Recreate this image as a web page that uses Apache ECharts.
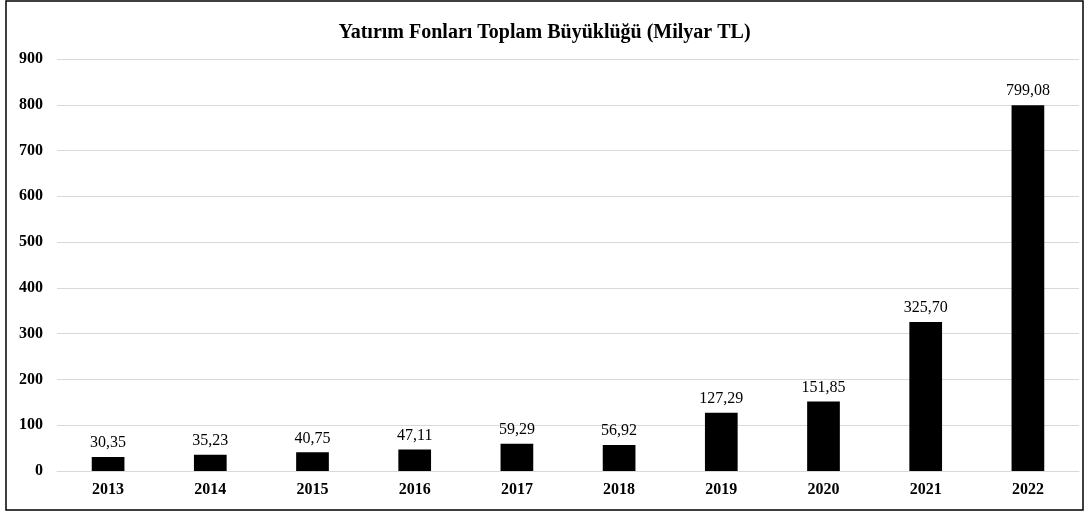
<!DOCTYPE html>
<html>
<head>
<meta charset="utf-8">
<script src="https://cdn.jsdelivr.net/npm/echarts@6/dist/echarts.min.js"></script>
<style>
  body { margin: 0; background: #fff; }
  #chart { width: 1089px; height: 513px; }
</style>
</head>
<body>
<div id="chart"></div>
<script>
const years = ['2013', '2014', '2015', '2016', '2017', '2018', '2019', '2020', '2021', '2022']
const fundSize = [30.35, 35.23, 40.75, 47.11, 59.29, 56.92, 127.29, 151.85, 325.70, 799.08]

const serif = '"Liberation Serif", "DejaVu Serif", serif'

const chart = echarts.init(document.getElementById('chart'))

chart.setOption({
    animation: false,
    title: {
        text: 'Yatırım Fonları Toplam Büyüklüğü (Milyar TL)',
        left: 'center',
        top: 18,
        textStyle: { fontFamily: serif, fontSize: 20, fontWeight: 'bold', color: '#000' }
    },
    graphic: [{
        type: 'rect',
        shape: { x: 6, y: 1, width: 1077, height: 509 },
        style: { fill: 'none', stroke: '#000', lineWidth: 1.5 },
        silent: true
    }],
    grid: { left: 57, right: 10, top: 59, bottom: 42, containLabel: false },
    xAxis: {
        type: 'category',
        data: years,
        axisTick: { show: false },
        axisLine: { lineStyle: { color: '#d9d9d9' } },
        axisLabel: { fontFamily: serif, fontSize: 16, fontWeight: 'bold', color: '#000', margin: 11 }
    },
    yAxis: {
        type: 'value',
        min: 0,
        max: 900,
        interval: 100,
        axisLine: { show: false },
        axisTick: { show: false },
        splitLine: { lineStyle: { color: '#d9d9d9', width: 1 } },
        axisLabel: { fontFamily: serif, fontSize: 16, fontWeight: 'bold', color: '#000', margin: 14 }
    },
    series: [{
        type: 'bar',
        data: fundSize,
        barWidth: '32%',
        itemStyle: { color: '#000' },
        label: {
            show: true,
            position: 'top',
            distance: 6,
            fontFamily: serif,
            fontSize: 16,
            color: '#000',
            formatter: (p) => p.value.toFixed(2).replace('.', ',')
        }
    }]
})
</script>
</body>
</html>
